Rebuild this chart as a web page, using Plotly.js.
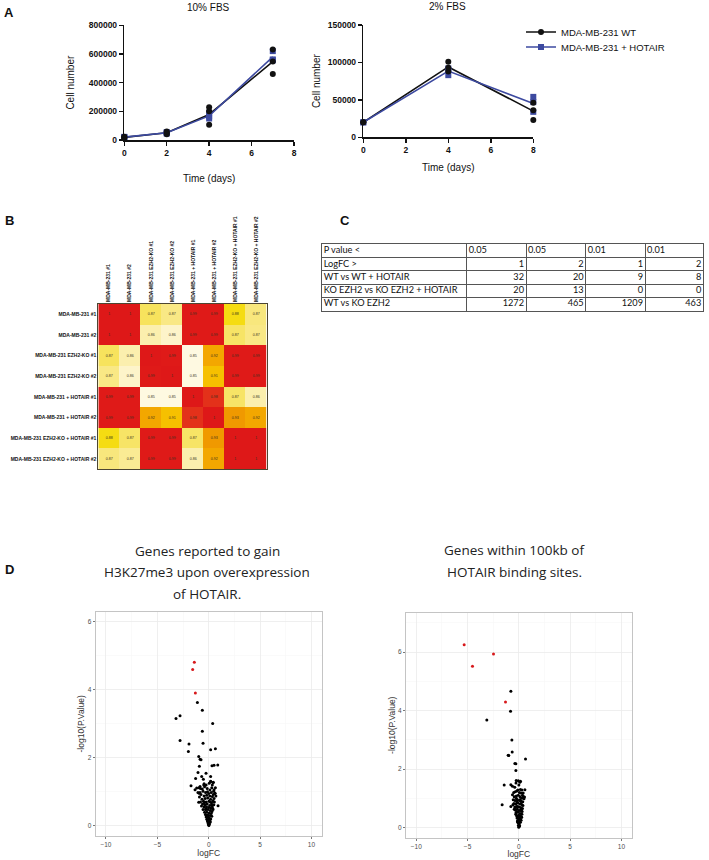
<!DOCTYPE html>
<html>
<head>
<meta charset="utf-8">
<script src="https://cdn.plot.ly/plotly-3.0.1.min.js"></script>
<style>html,body{margin:0;padding:0;background:#fff;}#chart{width:709px;height:860px;}</style>
</head>
<body>
<div id="chart"></div>
<script>
// ---------- Panel A data ----------
const days10 = [0, 2, 4, 7];
const wt10Mean = [18000, 50000, 178000, 547000];
const hot10Mean = [20000, 50000, 168000, 580000];
const wt10RepX = [0, 0, 0, 2, 2, 2, 4, 4, 4, 7, 7, 7];
const wt10RepY = [15000, 20000, 22000, 40000, 50000, 60000, 107000, 200000, 228000, 460000, 548000, 632000];
const hot10RepX = [0, 0, 0, 2, 2, 2, 4, 4, 4, 7, 7, 7];
const hot10RepY = [18000, 20000, 22000, 45000, 50000, 55000, 150000, 165000, 190000, 556000, 562000, 620000];

const days2 = [0, 4, 8];
const wt2Mean = [20000, 94000, 35000];
const hot2Mean = [20000, 88500, 45000];
const wt2RepX = [0, 0, 4, 4, 4, 8, 8, 8];
const wt2RepY = [20000, 20000, 101000, 88000, 93000, 46000, 23000, 36000];
const hot2RepX = [0, 0, 4, 4, 4, 8, 8, 8];
const hot2RepY = [20000, 20000, 83000, 90000, 92000, 54000, 34000, 47000];

const seriesNames = ["MDA-MB-231 WT", "MDA-MB-231 + HOTAIR"];
const aTitles = ["10% FBS", "2% FBS"];

// ---------- Panel B data ----------
const samples = [
  "MDA-MB-231 #1", "MDA-MB-231 #2",
  "MDA-MB-231 EZH2-KO #1", "MDA-MB-231 EZH2-KO #2",
  "MDA-MB-231 + HOTAIR #1", "MDA-MB-231 + HOTAIR #2",
  "MDA-MB-231 EZH2-KO + HOTAIR #1", "MDA-MB-231 EZH2-KO + HOTAIR #2"
];
const corr = [
  [1, 1, 0.873, 0.868, 0.99, 0.99, 0.880, 0.869],
  [1, 1, 0.862, 0.857, 0.99, 0.99, 0.872, 0.868],
  [0.873, 0.862, 1, 0.99, 0.852, 0.92, 0.99, 0.99],
  [0.868, 0.857, 0.99, 1, 0.852, 0.91, 0.99, 0.99],
  [0.99, 0.99, 0.852, 0.852, 1, 0.98, 0.872, 0.862],
  [0.99, 0.99, 0.92, 0.91, 0.98, 1, 0.93, 0.92],
  [0.880, 0.872, 0.99, 0.99, 0.872, 0.93, 1, 1],
  [0.869, 0.866, 0.99, 0.99, 0.862, 0.92, 1, 1]
];

// ---------- Panel C data ----------
const tableHeader = ["P value <", "0.05", "0.05", "0.01", "0.01"];
const rowLabels = ["LogFC >", "WT vs WT + HOTAIR", "KO EZH2 vs KO EZH2 + HOTAIR", "WT vs KO EZH2"];
const colP05FC1 = [1, 32, 20, 1272];
const colP05FC2 = [2, 20, 13, 465];
const colP01FC1 = [1, 9, 0, 1209];
const colP01FC2 = [2, 8, 0, 463];

// ---------- Panel D data ----------
const dTitleLeft = ["Genes reported to gain", "H3K27me3 upon overexpression", "of HOTAIR."];
const dTitleRight = ["Genes within 100kb of", "HOTAIR binding sites."];
const volcLeftRed = [[-1.40, 4.81], [-1.56, 4.60], [-1.30, 3.91]];
const volcLeftBlack = [
  [-1.10, 3.63], [-0.62, 3.40], [-2.79, 3.24], [-3.18, 3.16], [0.39, 3.01], [-0.62, 2.78],
  [-2.79, 2.51], [-1.92, 2.41], [-0.55, 2.43], [-1.98, 2.19], [0.19, 2.24], [0.65, 2.27],
  [-0.97, 2.04], [-0.84, 1.96], [-0.75, 1.94], [-0.91, 1.75], [0.32, 1.77], [0.52, 1.78],
  [0.88, 1.79], [-1.04, 1.57], [-0.26, 1.55], [-0.68, 1.45], [-1.27, 1.39], [0.19, 1.45],
  [-0.52, 1.37], [-1.72, 1.18], [-1.17, 1.11], [-0.84, 1.16], [0.19, 1.31], [0.45, 1.28],
  [-0.45, 1.24], [-0.94, 0.96], [-0.97, 0.69], [0.62, 0.96], [0.52, 1.06], [-1.33, 1.06],
  [-0.95, 1.12], [-0.80, 1.10], [-0.62, 1.08], [-0.40, 1.15], [-0.25, 1.20], [0.05, 1.25],
  [0.20, 1.30], [0.42, 1.27], [0.30, 1.12], [0.12, 1.05], [-0.55, 1.02], [-0.30, 0.98],
  [-0.12, 1.00], [0.00, 0.95], [0.25, 0.98], [0.48, 1.02], [0.60, 0.95], [-0.75, 0.92],
  [-0.90, 0.85], [-0.45, 0.88], [-0.20, 0.90], [0.10, 0.88], [0.35, 0.86], [0.52, 0.80],
  [-0.65, 0.78], [-0.35, 0.80], [-0.10, 0.82], [0.18, 0.78], [0.40, 0.74], [-0.50, 0.72],
  [-0.80, 0.70], [-0.25, 0.70], [0.02, 0.72], [0.28, 0.68], [0.50, 0.62], [-0.60, 0.64],
  [-0.38, 0.62], [-0.15, 0.64], [0.10, 0.60], [0.35, 0.58], [-0.45, 0.55], [-0.22, 0.56],
  [0.00, 0.54], [0.22, 0.52], [0.42, 0.48], [-0.55, 0.48], [-0.30, 0.47], [-0.08, 0.48],
  [0.15, 0.45], [0.32, 0.42], [-0.40, 0.40], [-0.18, 0.40], [0.05, 0.38], [0.25, 0.36],
  [-0.32, 0.33], [-0.10, 0.32], [0.12, 0.30], [0.30, 0.28], [-0.25, 0.26], [-0.05, 0.25],
  [0.08, 0.22], [0.20, 0.20], [-0.18, 0.19], [0.00, 0.17], [0.12, 0.14], [-0.10, 0.12],
  [0.05, 0.10], [-0.05, 0.07], [0.08, 0.05], [-0.02, 0.03], [0.02, 0.01], [-0.12, 0.15],
  [0.16, 0.11], [-0.22, 0.30], [0.38, 0.52], [-0.70, 0.58], [0.55, 0.70], [-0.85, 0.98],
  [0.70, 0.88], [0.91, 0.59], [-0.48, 1.20], [0.35, 1.20], [-1.05, 0.98], [0.65, 1.12],
  [-0.15, 1.10], [0.15, 0.70], [-0.42, 0.68], [0.45, 0.92], [-0.28, 0.50], [0.28, 0.62]
];
const volcRightRed = [[-5.33, 6.25], [-2.47, 5.94], [-4.52, 5.52], [-1.30, 4.29]];
const volcRightBlack = [
  [-0.78, 4.66], [-0.81, 3.98], [-3.12, 3.68], [-0.68, 2.99], [-0.65, 2.58], [-1.04, 2.47],
  [-0.98, 2.46], [0.65, 2.34], [-0.39, 2.19], [-0.29, 2.18], [-0.29, 1.95], [-0.26, 1.61],
  [0.16, 1.58], [-1.43, 1.45], [-0.78, 1.46], [-0.62, 1.41], [0.59, 1.29], [-1.63, 0.78],
  [-0.78, 0.72], [0.42, 1.04], [0.55, 1.04], [0.26, 0.35],
  [-0.50, 1.20], [-0.35, 1.22], [-0.20, 1.25], [0.05, 1.20], [0.20, 1.18], [0.35, 1.10],
  [0.45, 1.05], [-0.45, 1.05], [-0.25, 1.08], [-0.05, 1.10], [0.12, 1.05], [0.28, 1.00],
  [-0.55, 0.95], [-0.38, 0.92], [-0.15, 0.95], [0.05, 0.92], [0.22, 0.90], [0.38, 0.88],
  [-0.48, 0.82], [-0.30, 0.80], [-0.10, 0.84], [0.10, 0.80], [0.30, 0.78], [-0.40, 0.70],
  [-0.22, 0.72], [0.00, 0.70], [0.18, 0.68], [0.35, 0.65], [-0.35, 0.60], [-0.15, 0.62],
  [0.05, 0.58], [0.25, 0.56], [-0.28, 0.50], [-0.08, 0.52], [0.12, 0.48], [0.30, 0.45],
  [-0.22, 0.40], [-0.02, 0.42], [0.18, 0.38], [0.26, 0.35], [-0.18, 0.32], [0.00, 0.30],
  [0.14, 0.28], [-0.12, 0.24], [0.06, 0.22], [0.15, 0.18], [-0.08, 0.16], [0.04, 0.12],
  [-0.04, 0.08], [0.02, 0.04], [-0.01, 0.01], [0.08, 0.06], [-0.14, 0.20], [0.22, 0.25],
  [-0.30, 0.45], [0.32, 0.55], [-0.45, 0.62], [0.40, 0.75], [-0.58, 0.78], [0.50, 0.98],
  [-0.62, 1.12], [0.42, 1.18], [-0.10, 1.28], [0.15, 1.30], [-0.40, 1.38], [0.00, 1.45],
  [-0.28, 1.52], [0.10, 1.55], [-0.05, 1.60], [-0.20, 0.88], [0.10, 0.95], [-0.32, 0.68],
  [0.22, 0.62], [-0.20, 0.55], [0.08, 0.35], [-0.25, 1.00], [0.30, 1.28], [-0.12, 0.72],
  [0.20, 0.82], [-0.06, 0.38]
];

// ---------- helpers ----------
const W = 709, H = 860;
const fx = p => p / W;
const fy = p => 1 - p / H;
const ARIAL = '"Liberation Sans", Arial, sans-serif';
const HUM = '"Open Sans", "Noto Sans", sans-serif';
const TABF = '"Lato", "Liberation Sans", sans-serif';
const BLACK = '#111111';
const BLUE = '#3d4aa0';
const px = arr => arr.map(p => p[0]);
const py = arr => arr.map(p => p[1]);

const traces = [];
// Panel A left
traces.push({type: 'scatter', mode: 'lines+markers', x: days10, y: wt10Mean, name: seriesNames[0],
  line: {color: BLACK, width: 1.6}, marker: {color: BLACK, symbol: 'circle', size: 6},
  selectedpoints: [], unselected: {marker: {opacity: 0}}, xaxis: 'x', yaxis: 'y', legend: 'legend', cliponaxis: false});
traces.push({type: 'scatter', mode: 'lines+markers', x: days10, y: hot10Mean, name: seriesNames[1],
  line: {color: BLUE, width: 1.6}, marker: {color: BLUE, symbol: 'square', size: 6},
  selectedpoints: [], unselected: {marker: {opacity: 0}}, xaxis: 'x', yaxis: 'y', legend: 'legend2', cliponaxis: false});
traces.push({type: 'scatter', mode: 'markers', x: hot10RepX, y: hot10RepY, showlegend: false,
  marker: {color: BLUE, symbol: 'square', size: 6}, xaxis: 'x', yaxis: 'y', cliponaxis: false});
traces.push({type: 'scatter', mode: 'markers', x: wt10RepX, y: wt10RepY, showlegend: false,
  marker: {color: BLACK, symbol: 'circle', size: 6}, xaxis: 'x', yaxis: 'y', cliponaxis: false});
// Panel A right
traces.push({type: 'scatter', mode: 'lines', x: days2, y: wt2Mean, showlegend: false,
  line: {color: BLACK, width: 1.6}, xaxis: 'x2', yaxis: 'y2', cliponaxis: false});
traces.push({type: 'scatter', mode: 'lines', x: days2, y: hot2Mean, showlegend: false,
  line: {color: BLUE, width: 1.6}, xaxis: 'x2', yaxis: 'y2', cliponaxis: false});
traces.push({type: 'scatter', mode: 'markers', x: hot2RepX, y: hot2RepY, showlegend: false,
  marker: {color: BLUE, symbol: 'square', size: 6}, xaxis: 'x2', yaxis: 'y2', cliponaxis: false});
traces.push({type: 'scatter', mode: 'markers', x: wt2RepX, y: wt2RepY, showlegend: false,
  marker: {color: BLACK, symbol: 'circle', size: 6}, xaxis: 'x2', yaxis: 'y2', cliponaxis: false});

// Panel B heatmap
const corrText = corr.map(r => r.map(v => String(Number(v.toFixed(2)))));
traces.push({type: 'heatmap', z: corr, x: samples, y: samples, text: corrText, texttemplate: '%{text}',
  textfont: {size: 3.6, color: '#3a3020', family: ARIAL},
  zmin: 0.85, zmax: 1.0, showscale: false, xaxis: 'x3', yaxis: 'y3', hoverinfo: 'skip',
  colorscale: [
    [0.0, '#fffbea'], [0.05, '#fdf3c8'], [0.10, '#faec9c'], [0.15, '#f7e362'], [0.20, '#f5dc12'],
    [0.40, '#f6c000'], [0.47, '#f3a600'], [0.53, '#f09a00'], [0.75, '#e85a12'],
    [0.87, '#e3301a'], [0.93, '#df1a18'], [1.0, '#de1818']
  ]});

// Panel C table, drawn as text on a gridded axis pair
const tabColWidths = [145, 59.3, 59.7, 59.3, 58.3];
const tabEdges = tabColWidths.reduce((a, w) => { a.push(a[a.length - 1] + w); return a; }, [0]);
const tabCols = [[tableHeader[0]].concat(rowLabels)];
[colP05FC1, colP05FC2, colP01FC1, colP01FC2].forEach((c, i) => tabCols.push([tableHeader[i + 1]].concat(c.map(String))));
const nRows = tabCols[0].length;
const tabFont = {family: TABF, size: 9.2, color: '#111'};
tabCols.forEach((col, ci) => {
  const lx = [], ly = [], lt = [], rx = [], ry = [], rt = [];
  col.forEach((v, ri) => {
    if (ci === 0 || ri === 0) { lx.push(tabEdges[ci] + 2); ly.push(ri + 0.5); lt.push(v); }
    else { rx.push(tabEdges[ci + 1] - 2); ry.push(ri + 0.5); rt.push(v); }
  });
  if (lt.length) traces.push({type: 'scatter', mode: 'text', x: lx, y: ly, text: lt, textposition: 'middle right',
    textfont: tabFont, showlegend: false, xaxis: 'x6', yaxis: 'y6', hoverinfo: 'skip', cliponaxis: false});
  if (rt.length) traces.push({type: 'scatter', mode: 'text', x: rx, y: ry, text: rt, textposition: 'middle left',
    textfont: tabFont, showlegend: false, xaxis: 'x6', yaxis: 'y6', hoverinfo: 'skip', cliponaxis: false});
});

// Panel D volcano plots
traces.push({type: 'scatter', mode: 'markers', x: px(volcLeftBlack), y: py(volcLeftBlack), showlegend: false,
  marker: {color: '#000', size: 3}, xaxis: 'x4', yaxis: 'y4'});
traces.push({type: 'scatter', mode: 'markers', x: px(volcLeftRed), y: py(volcLeftRed), showlegend: false,
  marker: {color: '#d7191c', size: 3}, xaxis: 'x4', yaxis: 'y4'});
traces.push({type: 'scatter', mode: 'markers', x: px(volcRightBlack), y: py(volcRightBlack), showlegend: false,
  marker: {color: '#000', size: 3}, xaxis: 'x5', yaxis: 'y5'});
traces.push({type: 'scatter', mode: 'markers', x: px(volcRightRed), y: py(volcRightRed), showlegend: false,
  marker: {color: '#d7191c', size: 3}, xaxis: 'x5', yaxis: 'y5'});

// ---------- axes ----------
const gpTickFont = {family: ARIAL, size: 8.5, color: '#111', weight: 'bold'};
function gpAxis(extra) {
  return Object.assign({showline: true, linewidth: 1.5, linecolor: '#111', ticks: 'outside', ticklen: 4,
    tickwidth: 1.5, tickcolor: '#111', showgrid: false, zeroline: false, tickfont: gpTickFont,
    tickformat: 'd', fixedrange: true}, extra);
}
const ggTick = {family: ARIAL, size: 6.5, color: '#4d4d4d'};
function ggX(extra) {
  return Object.assign({range: [-11, 11], tickvals: [-10, -5, 0, 5, 10], showline: true, mirror: true,
    linecolor: '#c4c4c4', linewidth: 1, ticks: 'outside', ticklen: 2, tickcolor: '#555', tickwidth: 0.8,
    showgrid: true, gridcolor: '#ebebeb', gridwidth: 0.8, zeroline: false, tickfont: ggTick,
    minor: {tickvals: [-7.5, -2.5, 2.5, 7.5], showgrid: true, gridcolor: '#f5f5f5', gridwidth: 0.5},
    title: {text: 'logFC', font: {family: ARIAL, size: 8.5, color: '#333'}, standoff: 2}}, extra);
}
function ggY(extra) {
  return Object.assign({tickvals: [0, 2, 4, 6], showline: true, mirror: true,
    linecolor: '#c4c4c4', linewidth: 1, ticks: 'outside', ticklen: 2, tickcolor: '#555', tickwidth: 0.8,
    showgrid: true, gridcolor: '#ebebeb', gridwidth: 0.8, zeroline: false, tickfont: ggTick,
    minor: {tickvals: [1, 3, 5, 7], showgrid: true, gridcolor: '#f5f5f5', gridwidth: 0.5},
    title: {text: '-log10(P.Value)', font: {family: ARIAL, size: 8.5, color: '#333'}, standoff: 1}}, extra);
}
const hmTick = {family: ARIAL, size: 5, color: '#111', weight: 'bold'};
const legendBase = {xanchor: 'left', yanchor: 'middle', bgcolor: 'rgba(0,0,0,0)',
  font: {family: ARIAL, size: 9.5, color: '#111'}, itemwidth: 30};

const layout = {
  width: W, height: 860, margin: {l: 0, r: 0, t: 0, b: 0},
  paper_bgcolor: '#ffffff', plot_bgcolor: '#ffffff', showlegend: true,
  font: {family: ARIAL, color: '#111'},
  legend: Object.assign({x: fx(521), y: fy(32)}, legendBase),
  legend2: Object.assign({x: fx(521), y: fy(47)}, legendBase),
  xaxis: gpAxis({domain: [fx(124.3), fx(294)], range: [0, 8], tickvals: [0, 2, 4, 6, 8], anchor: 'y',
    title: {text: 'Time (days)', font: {family: ARIAL, size: 10, color: '#111'}, standoff: 18}}),
  yaxis: gpAxis({domain: [fy(140), fy(25.3)], range: [0, 800000], tickvals: [0, 200000, 400000, 600000, 800000], anchor: 'x',
    title: {text: 'Cell number', font: {family: ARIAL, size: 10, color: '#111'}, standoff: 12}}),
  xaxis2: gpAxis({domain: [fx(363.3), fx(533.3)], range: [0, 8], tickvals: [0, 2, 4, 6, 8], anchor: 'y2',
    title: {text: 'Time (days)', font: {family: ARIAL, size: 10, color: '#111'}, standoff: 10}}),
  yaxis2: gpAxis({domain: [fy(137.3), fy(25)], range: [0, 150000], tickvals: [0, 50000, 100000, 150000], anchor: 'x2',
    title: {text: 'Cell number', font: {family: ARIAL, size: 10, color: '#111'}, standoff: 5}}),
  xaxis3: {domain: [fx(98.3), fx(266.7)], anchor: 'y3', side: 'top', tickangle: -90, tickfont: hmTick,
    showline: true, mirror: true, linecolor: '#4d4632', linewidth: 1, ticks: '', showgrid: false, zeroline: false, fixedrange: true},
  yaxis3: {domain: [fy(469.3), fy(304)], anchor: 'x3', autorange: 'reversed', tickfont: hmTick,
    showline: true, mirror: true, linecolor: '#4d4632', linewidth: 1, ticks: '', showgrid: false, zeroline: false, fixedrange: true},
  xaxis4: ggX({domain: [fx(95.7), fx(321.7)], anchor: 'y4'}),
  yaxis4: ggY({domain: [fy(836), fy(611.7)], range: [-0.3, 6.3], anchor: 'x4'}),
  xaxis5: ggX({domain: [fx(406), fx(631.7)], anchor: 'y5'}),
  yaxis5: ggY({domain: [fy(837.7), fy(612.7)], range: [-0.35, 7.35], anchor: 'x5'}),
  xaxis6: {domain: [fx(321.7), fx(703.3)], anchor: 'y6', range: [0, tabEdges[tabEdges.length - 1]],
    tickvals: tabEdges, showticklabels: false, ticks: '', showgrid: true, gridcolor: '#555', gridwidth: 1,
    showline: true, mirror: true, linecolor: '#555', linewidth: 1, zeroline: false, fixedrange: true},
  yaxis6: {domain: [fy(310.7), fy(244.3)], anchor: 'x6', range: [nRows, 0],
    tickvals: Array.from({length: nRows + 1}, (_, i) => i), showticklabels: false, ticks: '',
    showgrid: true, gridcolor: '#555', gridwidth: 1,
    showline: true, mirror: true, linecolor: '#555', linewidth: 1, zeroline: false, fixedrange: true},
  annotations: []
};

function ann(text, x, y, size, opts) {
  layout.annotations.push(Object.assign({text: text, x: fx(x), y: fy(y), xref: 'paper', yref: 'paper',
    showarrow: false, xanchor: 'center', yanchor: 'middle',
    font: {family: ARIAL, size: size, color: '#111'}}, opts || {}));
}
// panel letters
ann('<b>A</b>', 9, 12.5, 13);
ann('<b>B</b>', 9, 221, 13);
ann('<b>C</b>', 345, 221, 13);
ann('<b>D</b>', 9, 569, 13);
// Panel A titles
ann(aTitles[0], 208, 7.5, 10);
ann(aTitles[1], 447, 6.5, 10);
// Panel D titles
dTitleLeft.forEach((t, i) => ann(t, 207, 550.5 + i * 21.5, 13.5, {font: {family: HUM, size: 13.5, color: '#222'}}));
dTitleRight.forEach((t, i) => ann(t, 514, 550 + i * 21.5, 13.5, {font: {family: HUM, size: 13.5, color: '#222'}}));

Plotly.newPlot('chart', traces, layout, {staticPlot: true});
</script>
</body>
</html>
